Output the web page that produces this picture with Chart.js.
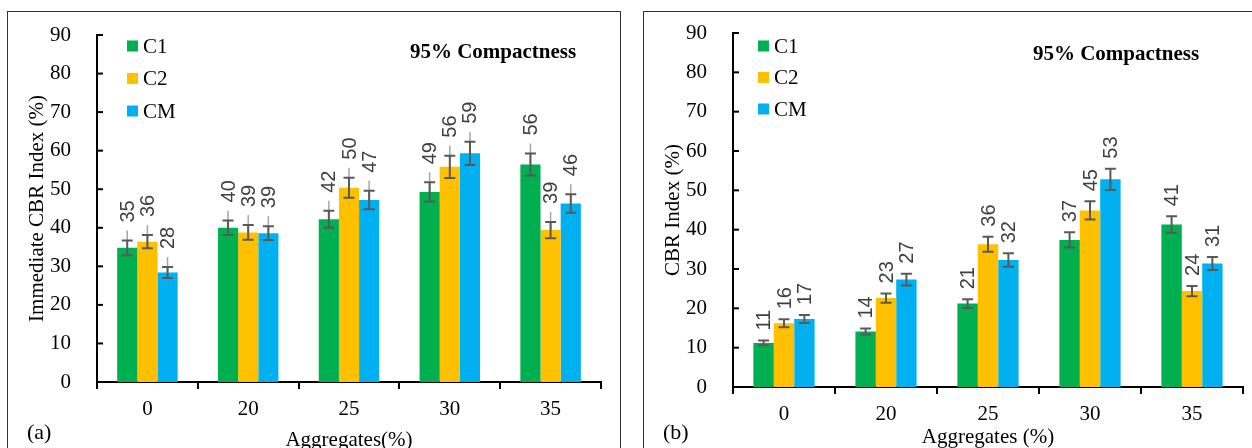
<!DOCTYPE html>
<html>
<head>
<meta charset="utf-8">
<script src="https://cdn.jsdelivr.net/npm/chart.js@4.4.1/dist/chart.umd.min.js"></script>
<style>
  body { margin: 0; background: #fff; width: 1252px; height: 448px; overflow: hidden; position: relative; }
  .panel { position: absolute; top: 11px; border: 1px solid #333; background: #fff; }
  .tag { position: absolute; font-family: "Liberation Serif", serif; font-size: 22px; color: #000; }
</style>
</head>
<body>
<div class="panel" style="left:7px;width:612px;height:445px">
  <canvas id="chartA" width="612" height="445"></canvas>
</div>
<div class="panel" style="left:643px;width:620px;height:445px">
  <canvas id="chartB" width="620" height="445"></canvas>
</div>
<div class="tag" style="left:27px;top:419px">(a)</div>
<div class="tag" style="left:663px;top:419px">(b)</div>

<script>
// aggregate content (%)
const categories = ['0', '20', '25', '30', '35'];
const seriesNames = ['C1', 'C2', 'CM'];
const seriesColors = ['#00B050', '#FFC000', '#00B0F0'];

// (a) immediate CBR index (%)
const immC1 = [34.8, 40.0, 42.2, 49.3, 56.4];
const immC2 = [36.4, 38.8, 50.4, 55.8, 39.4];
const immCM = [28.4, 38.6, 47.2, 59.3, 46.3];
const immC1Err = [1.9, 1.9, 2.2, 2.5, 2.85];
const immC2Err = [1.7, 1.9, 2.6, 2.9, 2.1];
const immCMErr = [1.4, 1.8, 2.4, 3.0, 2.4];

// (b) CBR index (%)
const cbrC1 = [11.2, 14.1, 21.2, 37.4, 41.3];
const cbrC2 = [16.2, 22.6, 36.3, 44.9, 24.4];
const cbrCM = [17.3, 27.3, 32.3, 52.8, 31.4];
const cbrC1Err = [0.6, 0.75, 1.1, 1.95, 2.1];
const cbrC2Err = [1.0, 1.2, 1.9, 2.3, 1.3];
const cbrCMErr = [1.0, 1.5, 1.7, 2.7, 1.65];

const yTicks = [0, 10, 20, 30, 40, 50, 60, 70, 80, 90];

const serif = '"Liberation Serif", "Times New Roman", serif';
const sans = '"Liberation Sans", Arial, sans-serif';

// error bars, value labels, inward y ticks, legend and inner title
const panelDecor = {
  id: 'panelDecor',
  afterDraw(chart, args, opts) {
    const ctx = chart.ctx;
    const area = chart.chartArea;
    const y = chart.scales.y;
    ctx.save();

    ctx.strokeStyle = '#000';
    ctx.lineWidth = 2;
    y.ticks.forEach(t => {
      const py = y.getPixelForValue(t.value);
      ctx.beginPath();
      ctx.moveTo(area.left, py);
      ctx.lineTo(area.left + 6, py);
      ctx.stroke();
    });

    chart.data.datasets.forEach((ds, di) => {
      const meta = chart.getDatasetMeta(di);
      meta.data.forEach((bar, i) => {
        const v = ds.data[i];
        const e = ds.errors[i];
        const x = bar.x;
        const hi = y.getPixelForValue(v + e);
        const lo = y.getPixelForValue(v - e);

        if (opts.leader) {
          ctx.strokeStyle = '#A6A6A6';
          ctx.lineWidth = 1.5;
          ctx.beginPath();
          ctx.moveTo(x, bar.y);
          ctx.lineTo(x, hi - opts.leader);
          ctx.stroke();
        }

        ctx.strokeStyle = '#595959';
        ctx.lineWidth = 2;
        ctx.beginPath();
        ctx.moveTo(x, hi); ctx.lineTo(x, lo);
        ctx.moveTo(x - 5.5, hi); ctx.lineTo(x + 5.5, hi);
        ctx.moveTo(x - 5.5, lo); ctx.lineTo(x + 5.5, lo);
        ctx.stroke();

        ctx.save();
        ctx.translate(x, hi - opts.labelGap);
        ctx.rotate(-Math.PI / 2);
        ctx.fillStyle = '#404040';
        ctx.font = '20px ' + sans;
        ctx.textAlign = 'left';
        ctx.textBaseline = 'middle';
        ctx.fillText(String(Math.round(v)), 0, 1);
        ctx.restore();
      });
    });

    // legend
    ctx.font = '21px ' + serif;
    ctx.textAlign = 'left';
    ctx.textBaseline = 'middle';
    chart.data.datasets.forEach((ds, di) => {
      const cy = area.top + opts.legendTop + di * opts.legendStep;
      const sx = area.left + opts.legendLeft;
      ctx.fillStyle = ds.backgroundColor;
      ctx.fillRect(sx, cy - 5.5, 11, 11);
      ctx.fillStyle = '#000';
      ctx.fillText(ds.label, sx + 11 + 5, cy + 1);
    });

    // inner title
    ctx.font = 'bold 21px ' + serif;
    ctx.textAlign = 'center';
    ctx.fillText(opts.title, area.left + opts.titleX, area.top + opts.titleY);

    ctx.restore();
  }
};

function noPad(s) {
  s.paddingTop = 0; s.paddingBottom = 0; s.paddingLeft = 0; s.paddingRight = 0;
}

function makeChart(id, values, errors, yTitle, xTitle, layout) {
  return new Chart(document.getElementById(id), {
    type: 'bar',
    data: {
      labels: categories,
      datasets: seriesNames.map((name, k) => ({
        label: name,
        data: values[k],
        errors: errors[k],
        backgroundColor: seriesColors[k],
        categoryPercentage: 0.6,
        barPercentage: 1.0
      }))
    },
    options: {
      responsive: false,
      animation: false,
      layout: { padding: { left: 0, top: layout.top, right: layout.right, bottom: layout.bottom } },
      plugins: {
        legend: { display: false },
        tooltip: { enabled: false },
        panelDecor: layout.decor
      },
      scales: {
        x: {
          z: 1,
          grid: { display: true, drawOnChartArea: false, drawTicks: true, tickLength: 7, color: '#000', lineWidth: 2, offset: true },
          border: { display: true, color: '#000', width: 2 },
          ticks: { color: '#000', font: { family: serif, size: 21 }, padding: 8 },
          title: { display: true, text: xTitle, color: '#000', font: { family: serif, size: 21 }, padding: 0 },
          afterFit: s => { s.height = layout.xHeight; noPad(s); }
        },
        y: {
          z: 1,
          min: 0,
          max: 90,
          afterBuildTicks: s => { s.ticks = yTicks.map(v => ({ value: v })); },
          grid: { display: false },
          border: { display: true, color: '#000', width: 2 },
          ticks: { color: '#000', font: { family: serif, size: 21 }, padding: 18 },
          title: { display: true, text: yTitle, color: '#000', font: { family: serif, size: 21 }, padding: { top: 17, bottom: 0 } },
          afterFit: s => { s.width = 89; noPad(s); }
        }
      }
    },
    plugins: [panelDecor]
  });
}

const chartA = makeChart('chartA',
  [immC1, immC2, immCM],
  [immC1Err, immC2Err, immCMErr],
  'Immediate CBR Index (%)', 'Aggregates(%)',
  {
    top: 23, right: 19, bottom: 4, xHeight: 71,
    decor: { leader: 10, labelGap: 18, legendLeft: 30, legendTop: 11, legendStep: 32.5,
             title: '95% Compactness', titleX: 396, titleY: 18 }
  });

const chartB = makeChart('chartB',
  [cbrC1, cbrC2, cbrCM],
  [cbrC1Err, cbrC2Err, cbrCMErr],
  'CBR Index (%)', 'Aggregates (%)',
  {
    top: 21, right: 21, bottom: 7, xHeight: 63,
    decor: { leader: 0, labelGap: 10, legendLeft: 25, legendTop: 13, legendStep: 31.5,
             title: '95% Compactness', titleX: 383, titleY: 22 }
  });
</script>
</body>
</html>
